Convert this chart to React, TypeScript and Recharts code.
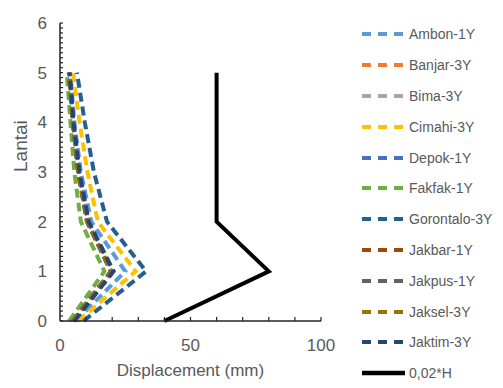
import React from 'react';
import { LineChart, Line, XAxis, YAxis } from 'recharts';

const floors = [0, 1, 2, 3, 4, 5];

const ambon = [6, 25, 12, 8, 5.5, 4];
const banjar = [5, 20, 10.5, 7, 5, 3.5];
const bima = [4.8, 19.5, 10.3, 7, 4.8, 3.4];
const cimahi = [7, 29, 14.5, 10.5, 7.5, 5];
const depok = [5.2, 20.5, 10.8, 7.2, 5, 3.6];
const fakfak = [3.5, 17, 8, 5.5, 4, 2.6];
const gorontalo = [9, 33, 18, 13, 9.5, 6.5];
const jakbar = [5, 19.5, 10.5, 7, 5, 3.5];
const jakpus = [4.8, 19.5, 10.3, 6.9, 4.9, 3.4];
const jaksel = [5, 19.8, 10.5, 7, 5, 3.5];
const jaktim = [5.5, 20.5, 11, 7.5, 5.2, 3.7];
const limit = [40, 80, 60, 60, 60, 60];

const series = [
  { key: 'Ambon-1Y', values: ambon, color: '#5B9BD5' },
  { key: 'Banjar-3Y', values: banjar, color: '#ED7D31' },
  { key: 'Bima-3Y', values: bima, color: '#A5A5A5' },
  { key: 'Cimahi-3Y', values: cimahi, color: '#FFC000' },
  { key: 'Depok-1Y', values: depok, color: '#4472C4' },
  { key: 'Fakfak-1Y', values: fakfak, color: '#70AD47' },
  { key: 'Gorontalo-3Y', values: gorontalo, color: '#255E91' },
  { key: 'Jakbar-1Y', values: jakbar, color: '#9E480E' },
  { key: 'Jakpus-1Y', values: jakpus, color: '#636363' },
  { key: 'Jaksel-3Y', values: jaksel, color: '#997300' },
  { key: 'Jaktim-3Y', values: jaktim, color: '#264478' },
];
const limitName = '0,02*H';

// minor ticks every 0.1 floor, labels only on whole floors
const yTicks = Array.from({ length: 61 }, (_, i) => i / 10);
const xTicks = [0, 10, 20, 30, 40, 50, 60, 70, 80, 90, 100];
const xLabels = [0, 50, 100];

const data = floors.map((f, i) => {
  const row: Record<string, number> = { floor: f, [limitName]: limit[i] };
  series.forEach((s) => (row[s.key] = s.values[i]));
  return row;
});

const textColor = '#595959';
const font = '"Liberation Sans Narrow", "Liberation Sans", Arial, sans-serif';

const YTick = (props: any) => {
  const { x, y, payload } = props;
  const v = payload.value;
  const major = Math.abs(v - Math.round(v)) < 1e-6;
  return (
    <g>
      <line x1={x} x2={x + 3} y1={y} y2={y} stroke="#222" strokeWidth={1.2} />
      {major && (
        <text x={x - 13} y={y} dy={6} textAnchor="end" fontSize={17} fill={textColor} fontFamily={font}>
          {Math.round(v)}
        </text>
      )}
    </g>
  );
};

const XTick = (props: any) => {
  const { x, y, payload } = props;
  const v = payload.value;
  return (
    <g>
      {v !== 0 && <line x1={x} x2={x} y1={y} y2={y - 4} stroke="#222" strokeWidth={1.2} />}
      {xLabels.includes(v) && (
        <text x={x} y={y + 30} textAnchor="middle" fontSize={17} fill={textColor} fontFamily={font}>
          {v}
        </text>
      )}
    </g>
  );
};

function LegendBox() {
  const items = [...series.map((s) => ({ name: s.key, color: s.color, dashed: true })), { name: limitName, color: '#000', dashed: false }];
  return (
    <div style={{ position: 'absolute', left: 360, top: 19, width: 143 }}>
      {items.map((it) => (
        <div key={it.name} style={{ display: 'flex', alignItems: 'center', height: 30.8 }}>
          <svg width={46} height={8} style={{ display: 'block' }}>
            <line
              x1={2}
              x2={45}
              y1={4}
              y2={4}
              stroke={it.color}
              strokeWidth={it.dashed ? 4 : 4.5}
              strokeDasharray={it.dashed ? '9 7' : undefined}
            />
          </svg>
          <span style={{ marginLeft: 3, fontSize: 14, color: textColor, fontFamily: '"Liberation Sans", Arial, sans-serif' }}>{it.name}</span>
        </div>
      ))}
    </div>
  );
}

export default function App() {
  return (
    <div style={{ margin: -8, position: 'relative', width: 503, height: 388, background: '#fff' }}>
      <LineChart
        width={503}
        height={388}
        data={data}
        layout="vertical"
        margin={{ top: 23, right: 182, bottom: 0, left: 0 }}
      >
        <XAxis
          type="number"
          domain={[0, 100]}
          ticks={xTicks}
          interval={0}
          tickSize={0}
          tickMargin={0}
          tickLine={false}
          tick={<XTick />}
          height={67}
          axisLine={{ stroke: '#222', strokeWidth: 1.5 }}
          label={{ value: 'Displacement (mm)', position: 'insideBottom', offset: 12, fontSize: 17, fill: textColor, fontFamily: font }}
        />
        <YAxis
          type="number"
          dataKey="floor"
          domain={[0, 6]}
          reversed
          ticks={yTicks}
          interval={0}
          tickSize={0}
          tickMargin={0}
          tickLine={false}
          tick={<YTick />}
          width={60}
          axisLine={{ stroke: '#222', strokeWidth: 1.5 }}
          label={{ value: 'Lantai', angle: -90, position: 'insideLeft', offset: 20, fontSize: 19, fill: textColor, fontFamily: font }}
        />
        {series.map((s) => (
          <Line
            key={s.key}
            dataKey={s.key}
            stroke={s.color}
            strokeWidth={4}
            strokeDasharray="9 5"
            dot={false}
            isAnimationActive={false}
          />
        ))}
        <Line dataKey={limitName} stroke="#000" strokeWidth={4} dot={false} isAnimationActive={false} />
      </LineChart>
      <LegendBox />
    </div>
  );
}
